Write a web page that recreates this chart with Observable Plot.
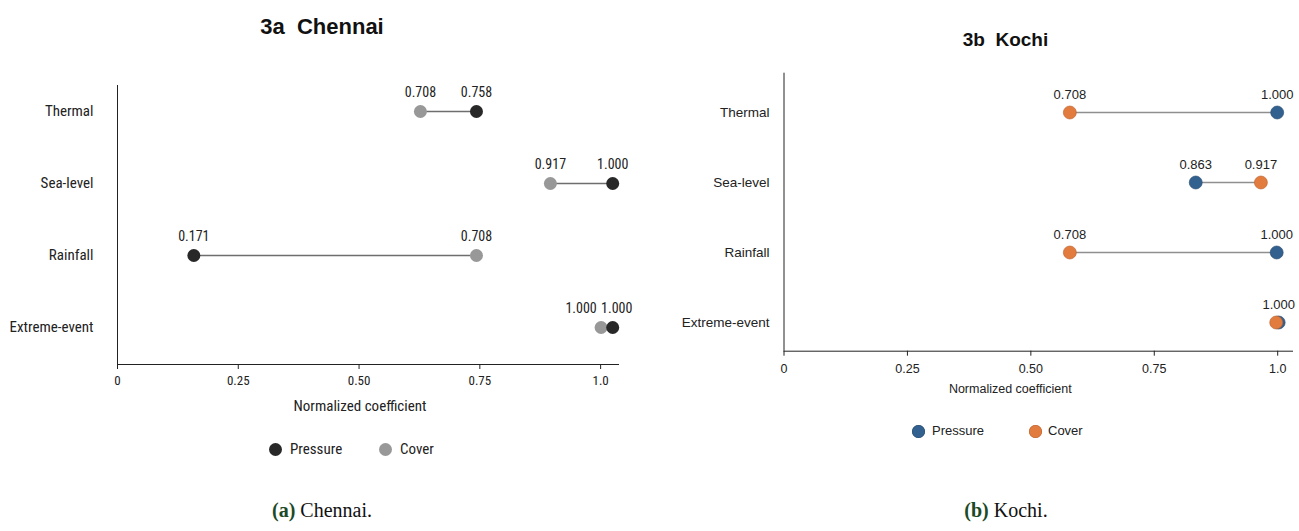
<!DOCTYPE html>
<html>
<head>
<meta charset="utf-8">
<script src="https://cdn.jsdelivr.net/npm/d3@7"></script>
<script src="https://cdn.jsdelivr.net/npm/@observablehq/plot@0.6"></script>
<style>
  html, body { margin: 0; padding: 0; background: #ffffff; }
  #root { position: relative; width: 1299px; height: 531px; overflow: hidden; background: #ffffff; }
  .abs { position: absolute; white-space: pre; }
  .narrow { font-family: "Liberation Sans Narrow", "Roboto Condensed", "DejaVu Sans Condensed", "Liberation Sans", sans-serif; }
  .regular { font-family: "Liberation Sans", Arial, Helvetica, sans-serif; }
  .title { font-weight: bold; color: #111; text-align: center; }
  .caption { font-family: "Liberation Serif", "DejaVu Serif", serif; font-size: 20px; color: #111; text-align: center; line-height: 24px; }
  .caption b { color: #1b4a26; }
  .dot { position: absolute; border-radius: 50%; }
  #left svg, #right svg { overflow: visible; }
</style>
</head>
<body>
<div id="root">
  <div id="left" class="abs" style="left:0;top:70px;"></div>
  <div id="right" class="abs" style="left:650px;top:58px;"></div>
</div>
<script>
// ---------- data ----------
const categories = ["Thermal", "Sea-level", "Rainfall", "Extreme-event"];

// Chennai (3a)
const chennaiPressure = [0.743, 1.025, 0.158, 1.025];
const chennaiCover    = [0.627, 0.896, 0.743, 1.001];
const chennaiPressureLabels = ["0.758", "1.000", "0.171", "1.000"];
const chennaiCoverLabels    = ["0.708", "0.917", "0.708", "1.000"];

// Kochi (3b)
const kochiPressure = [0.999, 0.834, 0.998, 1.002];
const kochiCover    = [0.579, 0.966, 0.579, 0.997];
const kochiPressureLabels = ["1.000", "0.863", "1.000", "1.000"];
const kochiCoverLabels    = ["0.708", "0.917", "0.708", ""];

const tickValues = [0, 0.25, 0.5, 0.75, 1.0];
const tickLabels = ["0", "0.25", "0.50", "0.75", "1.0"];
const axisTitle = "Normalized coefficient";
const seriesNames = ["Pressure", "Cover"];

const titles = ["3a\u00a0\u00a0Chennai", "3b\u00a0\u00a0Kochi"];
const captions = [["(a)", " Chennai."], ["(b)", " Kochi."]];

// ---------- build rows ----------
function rows(pressure, cover, pLab, cLab) {
  return categories.map((c, i) => ({
    cat: c, pressure: pressure[i], cover: cover[i], pLab: pLab[i], cLab: cLab[i]
  }));
}
const chennai = rows(chennaiPressure, chennaiCover, chennaiPressureLabels, chennaiCoverLabels);
const kochi = rows(kochiPressure, kochiCover, kochiPressureLabels, kochiCoverLabels);
const tf = d => tickLabels[tickValues.indexOf(d)];

// ---------- left: Chennai ----------
const colL = {pressure: "#282828", cover: "#989898", link: "#6e6e6e"};
const leftNormal = chennai.filter(d => d.cat !== "Extreme-event");
const leftExtreme = chennai.filter(d => d.cat === "Extreme-event");
const left = Plot.plot({
  width: 650, height: 360,
  marginLeft: 117, marginRight: 32, marginTop: 15, marginBottom: 66,
  style: {fontFamily: '"Liberation Sans Narrow", "Roboto Condensed", "DejaVu Sans Condensed", sans-serif', fontSize: "13px", color: "#222", background: "transparent"},
  x: {domain: [0, 1.037], label: null},
  y: {type: "point", domain: categories, padding: 0, insetTop: 25.7, insetBottom: 37.3, label: null},
  marks: [
    Plot.frame({anchor: "bottom", stroke: "#222"}),
    Plot.ruleX([0], {stroke: "#222"}),
    Plot.axisX(tickValues, {tickFormat: tf, tickSize: 5, tickPadding: 6, fontSize: 13, stroke: "#222", fill: "#222", label: null}),
    Plot.axisY({tickSize: 0, tickPadding: 24, fontSize: 15, fill: "#222", label: null}),
    Plot.ruleY(chennai, {y: "cat", x1: "cover", x2: "pressure", stroke: colL.link, strokeWidth: 1.4}),
    Plot.dot(chennai, {x: "cover", y: "cat", r: 6.5, fill: colL.cover}),
    Plot.dot(chennai, {x: "pressure", y: "cat", r: 6.5, fill: colL.pressure}),
    Plot.text(leftNormal, {x: "cover", y: "cat", text: "cLab", dy: -19, fontSize: 14, fill: "#222"}),
    Plot.text(leftNormal, {x: "pressure", y: "cat", text: "pLab", dy: -19, fontSize: 14, fill: "#222"}),
    Plot.text(leftExtreme, {x: "cover", y: "cat", text: "cLab", dy: -19, dx: -20, fontSize: 14, fill: "#222"}),
    Plot.text(leftExtreme, {x: "pressure", y: "cat", text: "pLab", dy: -19, dx: 4, fontSize: 14, fill: "#222"}),
    Plot.text([axisTitle], {text: d => d, frameAnchor: "bottom", dy: 46, dx: -8, fontSize: 15, fill: "#222"})
  ]
});
document.getElementById("left").appendChild(left);

// ---------- right: Kochi ----------
const colR = {pressure: "#33618f", pStroke: "#24476b", cover: "#e27b3e", cStroke: "#b9602b", link: "#8f8f8f"};
const right = Plot.plot({
  width: 649, height: 360,
  marginLeft: 133.5, marginRight: 7, marginTop: 14.7, marginBottom: 67.3,
  style: {fontFamily: '"Liberation Sans", Arial, sans-serif', fontSize: "12px", color: "#222", background: "transparent"},
  x: {domain: [0, 1.030], label: null},
  y: {type: "point", domain: categories, padding: 0, insetTop: 38, insetBottom: 28.4, label: null},
  marks: [
    Plot.frame({anchor: "bottom", stroke: "#222"}),
    Plot.ruleX([0], {stroke: "#222"}),
    Plot.axisX(tickValues, {tickFormat: tf, tickSize: 5, tickPadding: 8, fontSize: 12.5, stroke: "#222", fill: "#222", label: null}),
    Plot.axisY({tickSize: 0, tickPadding: 14.5, fontSize: 13.5, fill: "#222", label: null}),
    Plot.ruleY(kochi, {y: "cat", x1: "cover", x2: "pressure", stroke: colR.link, strokeWidth: 1.4}),
    Plot.dot(kochi, {x: "pressure", y: "cat", r: 6.5, fill: colR.pressure, stroke: colR.pStroke, strokeWidth: 0.6}),
    Plot.dot(kochi, {x: "cover", y: "cat", r: 6.5, fill: colR.cover, stroke: colR.cStroke, strokeWidth: 0.6}),
    Plot.text(kochi, {x: "cover", y: "cat", text: "cLab", dy: -18, fontSize: 13, fill: "#222"}),
    Plot.text(kochi, {x: "pressure", y: "cat", text: "pLab", dy: -18, fontSize: 13, fill: "#222"}),
    Plot.text([axisTitle], {text: d => d, frameAnchor: "bottom", dy: 42, dx: -28, fontSize: 12.5, fill: "#222"})
  ]
});
document.getElementById("right").appendChild(right);

// ---------- titles, legends, captions (HTML) ----------
const root = document.getElementById("root");
function add(html, cls, style) {
  const el = document.createElement("div");
  el.className = "abs " + cls;
  el.setAttribute("style", style);
  el.innerHTML = html;
  root.appendChild(el);
  return el;
}
add(titles[0], "regular title", "left:0;width:644px;top:14px;font-size:22px;line-height:26px;");
add(titles[1], "regular title", "left:855px;width:301px;top:29px;font-size:19px;line-height:22px;");

function legendDot(cx, cy, color, stroke) {
  const d = document.createElement("div");
  d.className = "dot";
  d.setAttribute("style", `left:${cx - 6.5}px;top:${cy - 6.5}px;width:13px;height:13px;background:${color};` + (stroke ? `box-shadow: inset 0 0 0 0.6px ${stroke};` : ""));
  root.appendChild(d);
}
// left legend
legendDot(275, 449, colL.pressure);
add(seriesNames[0], "narrow", "left:290px;top:440px;font-size:15px;line-height:18px;color:#222;");
legendDot(385, 449, colL.cover);
add(seriesNames[1], "narrow", "left:400px;top:440px;font-size:15px;line-height:18px;color:#222;");
// right legend
legendDot(918, 431, colR.pressure, colR.pStroke);
add(seriesNames[0], "regular", "left:932px;top:423px;font-size:13px;line-height:16px;color:#222;");
legendDot(1035, 431, colR.cover, colR.cStroke);
add(seriesNames[1], "regular", "left:1048px;top:423px;font-size:13px;line-height:16px;color:#222;");

// captions
add(`<b>${captions[0][0]}</b>${captions[0][1]}`, "caption", "left:0;width:644px;top:498px;");
add(`<b>${captions[1][0]}</b>${captions[1][1]}`, "caption", "left:806px;width:400px;top:498px;");
</script>
</body>
</html>
